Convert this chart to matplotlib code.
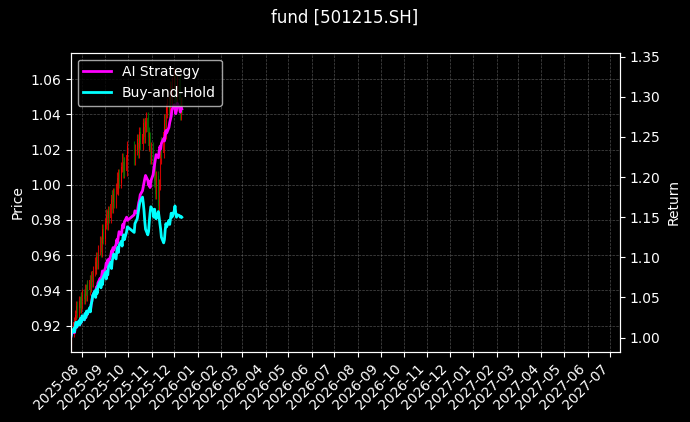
import matplotlib
matplotlib.use("Agg")
import matplotlib.pyplot as plt
import matplotlib.dates as mdates
import pandas as pd

_all = pd.bdate_range("2025-07-17", "2025-12-31")
_all = _all[(_all < "2025-10-01") | (_all > "2025-10-08")]
dates = _all[:100]
close = [0.912,0.916,0.922,0.919,0.926,0.931,0.927,0.934,0.930,0.936,
         0.932,0.938,0.935,0.941,0.937,0.943,0.940,0.946,0.942,0.948,
         0.945,0.951,0.956,0.952,0.959,0.955,0.963,0.968,0.962,0.970,
         0.975,0.969,0.978,0.983,0.977,0.985,0.981,0.989,0.994,0.987,
         0.995,0.990,0.998,1.004,0.997,1.006,1.001,1.010,1.015,1.007,
         1.013,1.008,1.017,1.022,1.014,1.020,1.026,1.018,1.024,1.030,
         1.023,1.029,1.035,1.027,1.033,1.038,1.030,1.022,1.027,1.015,
         1.021,1.010,1.002,1.012,0.995,1.005,0.988,1.000,1.015,1.024,
         1.018,1.030,1.037,1.029,1.041,1.046,1.039,1.050,1.056,1.048,
         1.058,1.063,1.052,1.045,1.054,1.060,1.048,1.040,1.047,1.044]
openp = [0.906] + close[:-1]
ai = [1.000,1.004,1.009,1.006,1.012,1.017,1.013,1.020,1.016,1.022,
      1.019,1.025,1.022,1.029,1.025,1.032,1.029,1.036,1.033,1.041,
      1.046,1.052,1.058,1.055,1.063,1.060,1.068,1.074,1.070,1.077,
      1.083,1.079,1.087,1.093,1.089,1.097,1.094,1.102,1.108,1.104,
      1.112,1.109,1.116,1.122,1.118,1.126,1.132,1.128,1.135,1.141,
      1.137,1.144,1.150,1.146,1.153,1.158,1.155,1.162,1.168,1.172,
      1.178,1.183,1.188,1.193,1.198,1.202,1.196,1.190,1.194,1.187,
      1.195,1.203,1.210,1.216,1.222,1.228,1.224,1.232,1.238,1.235,
      1.242,1.248,1.245,1.252,1.258,1.255,1.262,1.268,1.272,1.276,
      1.284,1.290,1.286,1.279,1.284,1.292,1.286,1.281,1.287,1.285]
bh = [1.000,1.005,1.011,1.007,1.014,1.019,1.013,1.021,1.016,1.024,
      1.019,1.027,1.022,1.030,1.025,1.033,1.029,1.037,1.032,1.041,
      1.045,1.052,1.058,1.050,1.060,1.055,1.064,1.070,1.062,1.072,
      1.066,1.075,1.081,1.073,1.083,1.078,1.088,1.094,1.086,1.096,
      1.100,1.104,1.098,1.108,1.112,1.106,1.115,1.120,1.114,1.124,
      1.128,1.122,1.132,1.138,1.131,1.142,1.148,1.154,1.160,1.166,
      1.170,1.175,1.168,1.158,1.145,1.135,1.128,1.132,1.145,1.155,
      1.163,1.158,1.150,1.160,1.152,1.148,1.157,1.150,1.142,1.135,
      1.125,1.118,1.122,1.134,1.142,1.138,1.146,1.141,1.148,1.155,
      1.150,1.158,1.164,1.155,1.150,1.153,1.152,1.150,1.151,1.150]

plt.style.use("dark_background")
fig, ax = plt.subplots(figsize=(6.9, 4.22), dpi=100)
fig.patch.set_facecolor("black")
ax.set_facecolor("black")
x = mdates.date2num(dates)
for xi, o, c in zip(x, openp, close):
    col = "red" if c >= o else "green"
    hi = max(o, c) * 1.003
    lo = min(o, c) * 0.997
    ax.vlines(xi, lo, hi, color=col, linewidth=0.8, alpha=0.8)
    ax.bar(xi, max(abs(c - o), 0.0005), bottom=min(o, c), width=0.8, color=col, alpha=0.8)
ax.set_ylim(0.905, 1.075)
ax.set_ylabel("Price")
ax.grid(True, color="gray", linestyle="--", linewidth=0.5, alpha=0.6)
ax.xaxis.set_major_locator(mdates.MonthLocator())
ax.xaxis.set_major_formatter(mdates.DateFormatter("%Y-%m"))
ax.set_xlim(mdates.date2num(pd.Timestamp("2025-07-17")), mdates.date2num(pd.Timestamp("2027-07-14")))
plt.setp(ax.get_xticklabels(), rotation=45, ha="right")

ax2 = ax.twinx()
ax2.plot(dates, ai, color="magenta", linewidth=2, label="AI Strategy")
ax2.plot(dates, bh, color="cyan", linewidth=2, label="Buy-and-Hold")
ax2.set_ylim(0.982, 1.355)
ax2.set_ylabel("Return")
ax2.legend(loc="upper left")
fig.suptitle("fund [501215.SH]")
fig.subplots_adjust(left=0.1025, right=0.8986, top=0.875, bottom=0.166)
fig.savefig("out.png", facecolor="black")
